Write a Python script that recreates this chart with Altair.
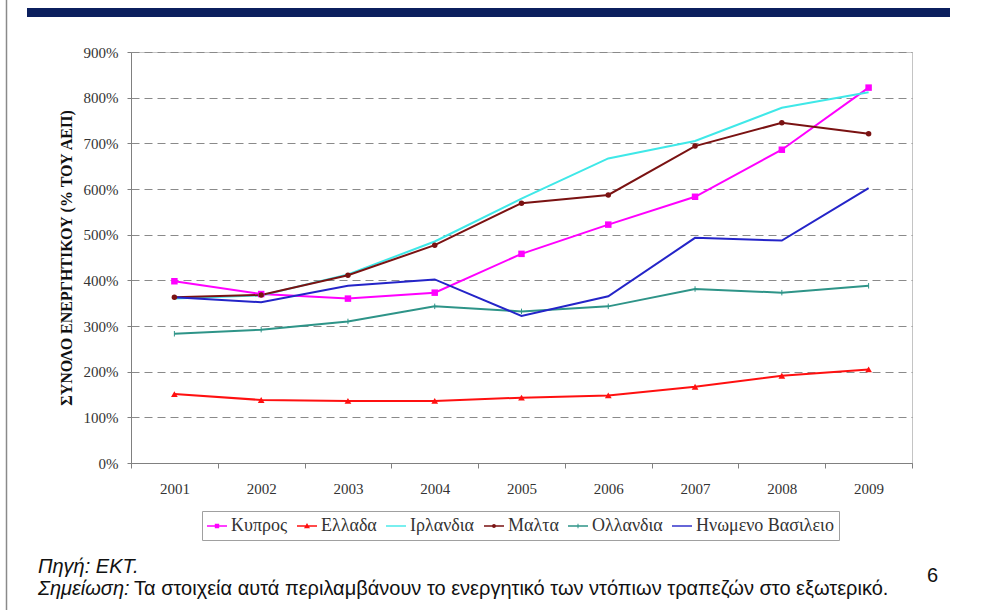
import altair as alt
import pandas as pd

years = [2001, 2002, 2003, 2004, 2005, 2006, 2007, 2008, 2009]
series_names = ["Κυπρος", "Ελλαδα", "Ιρλανδια", "Μαλτα", "Ολλανδια", "Ηνωμενο Βασιλειο"]
kypros = [398, 370, 360, 373, 458, 522, 583, 686, 822]
ellada = [151, 138, 136, 136, 143, 148, 167, 191, 205]
irlandia = [360, 367, 413, 485, 579, 667, 705, 778, 812]
malta = [363, 368, 411, 477, 569, 587, 694, 745, 721]
ollandia = [283, 292, 310, 343, 332, 343, 381, 373, 388]
hnomeno = [363, 352, 388, 402, 322, 365, 493, 487, 602]
y_ticks = [0, 100, 200, 300, 400, 500, 600, 700, 800, 900]
colors = ["#FF00FF", "#FF1010", "#3FE8E8", "#7A1212", "#2E9488", "#2424C8"]
LINE = "M-1,-0.07H1V0.07H-1Z"
legend_paths = [
    LINE + "M-0.22,-0.22H0.22V0.22H-0.22Z",
    LINE + "M0,-0.3L0.3,0.22H-0.3Z",
    LINE,
    LINE + "M-0.2,0A0.2,0.2,0,1,1,0.2,0A0.2,0.2,0,1,1,-0.2,0Z",
    LINE + "M-0.05,-0.22H0.05V0.22H-0.05Z",
    LINE,
]

all_values = [kypros, ellada, irlandia, malta, ollandia, hnomeno]
rows = []
for name, vals in zip(series_names, all_values):
    for yr, v in zip(years, vals):
        rows.append({"Year": str(yr), "Series": name, "Value": v})
df = pd.DataFrame(rows)

SERIF = "Liberation Serif"
SANS = "Liberation Sans"

X = alt.X(
    "Year:O",
    scale=alt.Scale(type="band", paddingInner=0, paddingOuter=0),
    bandPosition=0.5,
    axis=alt.Axis(
        title=None, tickBand="extent", labelAngle=0, labelFont=SERIF,
        labelFontSize=15, labelColor="#333", tickColor="#808080",
        tickSize=5, domainColor="#808080", labelPadding=13, grid=False,
    ),
)
Y = alt.Y(
    "Value:Q",
    scale=alt.Scale(domain=[0, 900], nice=False),
    axis=alt.Axis(
        values=y_ticks, labelExpr="datum.value + '%'", grid=True,
        gridDash=[8, 5], gridColor="#8a8a8a", gridWidth=1,
        domainColor="#808080", tickColor="#808080", tickSize=4,
        labelPadding=9, labelFont=SERIF, labelFontSize=15, labelColor="#333",
        title="ΣΥΝΟΛΟ ΕΝΕΡΓΗΤΙΚΟΥ (% ΤΟΥ ΑΕΠ)", titleFont=SERIF,
        titleFontSize=16, titleFontWeight="bold", titleColor="#111",
        titlePadding=9,
    ),
)

legend = alt.Legend(
    orient="none", legendX=71, legendY=459, direction="horizontal", columns=6,
    title=None, labelFont=SERIF, labelFontSize=18, labelColor="#333",
    symbolSize=400, symbolOpacity=1, symbolStrokeWidth=0,
    strokeColor="#a0a0a0", padding=5, columnPadding=9, labelOffset=4,
    labelLimit=300,
)
color_scale = alt.Scale(domain=series_names, range=colors)
shape_scale = alt.Scale(domain=series_names, range=legend_paths)

base = alt.Chart(df)

lines = base.mark_line(strokeWidth=2).encode(
    x=X, y=Y,
    color=alt.Color("Series:N", scale=color_scale, legend=legend),
)

def markers(name, shape, size, color, filled=True, sw=1):
    return base.transform_filter(alt.datum.Series == name).mark_point(
        shape=shape, size=size, color=color, filled=filled, opacity=1, strokeWidth=sw
    ).encode(x=X, y=Y)

m_kyp = markers("Κυπρος", "square", 42, colors[0])
m_ell = markers("Ελλαδα", "triangle-up", 45, colors[1])
m_mal = markers("Μαλτα", "circle", 30, colors[3])
m_oll = markers("Ολλανδια", "M0,-1V1", 30, colors[4], filled=False, sw=1)

leg_layer = base.mark_point(filled=True, opacity=0).encode(
    x=X, y=Y,
    color=alt.Color("Series:N", scale=color_scale, legend=legend),
    shape=alt.Shape("Series:N", scale=shape_scale, legend=legend),
)

one = alt.Data(values=[{"a": 1}])
bar = alt.Chart(one).mark_rect(color="#0B1F5E").encode(
    x=alt.value(-104), x2=alt.value(819), y=alt.value(-44), y2=alt.value(-35)
)
edge = alt.Chart(one).mark_rule(color="#8a8a8a", strokeWidth=1.5).encode(
    x=alt.value(-124.5), y=alt.value(-52), y2=alt.value(558)
)

def txt(s, x, y, size=20, style="normal", align="left", font=SANS):
    return alt.Chart(one).mark_text(
        font=font, fontSize=size, fontStyle=style, align=align,
        baseline="alphabetic", color="#111"
    ).encode(text=alt.value(s), x=alt.value(x), y=alt.value(y))

t1 = txt("Πηγή: ΕΚΤ.", -93, 521, style="italic")
t2 = txt("Σημείωση:", -93, 543, style="italic")
t3 = txt("Τα στοιχεία αυτά περιλαμβάνουν το ενεργητικό των ντόπιων τραπεζών στο εξωτερικό.", 3, 543)
t4 = txt("6", 796, 530)

chart = alt.layer(
    lines, m_kyp, m_ell, m_mal, m_oll, leg_layer, bar, edge, t1, t2, t3, t4
).properties(
    width=781, height=411,
    padding={"left": 131, "top": 52, "right": 70, "bottom": 147},
    autosize=alt.AutoSizeParams(type="none"),
).configure_view(stroke="#c4c4c4", strokeWidth=1)

chart.save("out.html", embed_options={"renderer": "svg", "actions": False})
